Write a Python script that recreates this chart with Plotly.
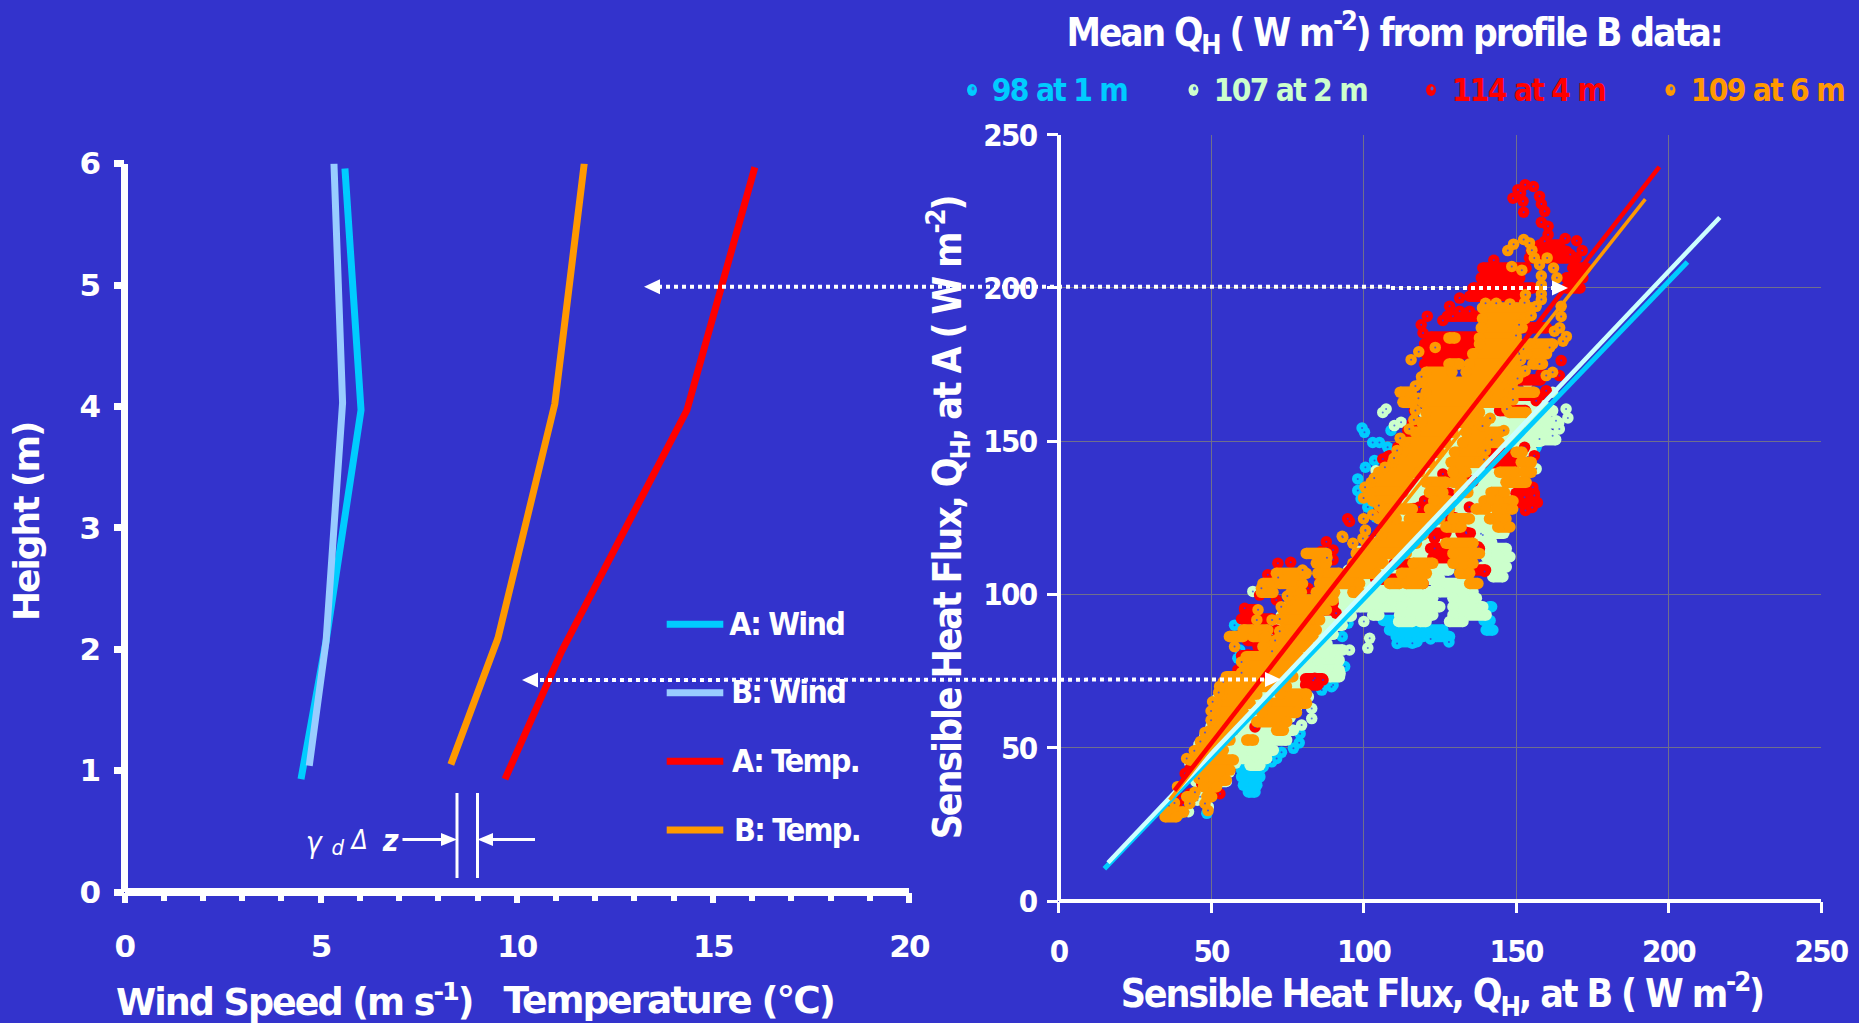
import plotly.graph_objects as go

W, H = 1859, 1023
BG = "#3333cc"
CYAN, MINT, RED, ORANGE, SKY, PALE = "#00ccff", "#ccffcc", "#ff0000", "#ff9900", "#99ccff", "#ccffff"
FONT = "DejaVu Sans Condensed, DejaVu Sans, sans-serif"
FONT_WIDE = "DejaVu Sans, sans-serif"

# ---------- left panel: profiles ----------
wind_a_speed = [4.5, 5.14, 6.03, 5.62]
wind_a_height = [0.93, 2.07, 3.97, 5.96]
wind_b_speed = [4.71, 5.14, 5.56, 5.34]
wind_b_height = [1.04, 2.07, 4.03, 6.0]
temp_a_value = [9.7, 11.14, 14.34, 16.07]
temp_a_height = [0.93, 1.98, 3.97, 5.97]
temp_b_value = [8.32, 9.52, 10.97, 11.72]
temp_b_height = [1.05, 2.09, 4.02, 6.0]

# ---------- right panel: fitted lines ----------
fit_1m_x, fit_1m_y = [15, 206.2], [10.5, 208.5]
fit_2m_x, fit_2m_y = [16.2, 216.8], [12.5, 223]
fit_4m_x, fit_4m_y = [38, 197], [36, 239.5]
fit_6m_x, fit_6m_y = [36.4, 192.4], [33, 229]

# ---------- right panel: point clouds ----------
# rows: (flux at A, [(flux at B from, flux at B to), ...]); spots: single points
cyan_rows = [
 (100.4, [(100.9, 105.3)]), (98.2, [(107.5, 110)]), (96, [(141.3, 142)]), (91.5, [(106.5, 110), (139.5, 141.5)]),
 (88.4, [(108.5, 126), (140.2, 142.4)]), (86.3, [(110.7, 119.5), (123.8, 128.2)]), (84.6, [(112, 117.5)]),
 (42.7, [(60, 66)]), (40.5, [(60, 66)]), (37.8, [(60.6, 65)]), (35.6, [(62.2, 64.4)]), (46, [(59.5, 62.5)]),
]
cyan_spots_x = [94.9, 93, 93.8, 90, 86.7, 84.5, 58.8, 57.7, 59.4, 70.8, 63.7, 99.5, 100.3, 103, 105.2, 107.9, 109, 103.6,
                100.6, 98.1, 98.1, 99.2, 101.4, 104.1, 104.1, 100.3, 101.9, 156.6, 67.1, 69.9, 71.5, 73.1, 77, 78.9, 79.2,
                48.6, 39.8, 86.3, 89.5, 65, 111, 116, 128, 122]
cyan_spots_y = [90.6, 86.3, 76.5, 70.5, 70, 75.4, 79.2, 90, 81.9, 86.3, 85.2, 154.3, 152.9, 149.6, 149.6, 148, 153.5, 143.7,
                141.5, 137.7, 133.9, 131.2, 128.5, 125.2, 137.2, 135, 130.6, 148, 43.8, 45.4, 46.5, 48.5, 49.8, 51.6, 54.6,
                28.6, 28.6, 68.8, 69.9, 53.6, 84, 84.1, 84.5, 85.5]

mint_rows = [
 (182, [(128, 137)]), (115, [(141.3, 146.8)]), (112.3, [(140.2, 148)]), (109, [(139.1, 146.8)]), (105.8, [(142.4, 145.7)]),
 (103.6, [(123.8, 132.6)]), (100.9, [(115.1, 122.7), (124.9, 135.9)]), (98.8, [(107.4, 122.7), (129.3, 137)]),
 (96, [(98.7, 110.7), (112.4, 125), (129.3, 139.1)]), (93.3, [(103, 105), (111.8, 122.7), (129.3, 140.2)]),
 (91.2, [(111.5, 116), (118.5, 120.5), (128.2, 132.6)]), (81.9, [(86.7, 93.2)]), (78.6, [(85.6, 92)]), (75.4, [(86.7, 92)]),
 (74.2, [(86.8, 92.3)]), (73.2, [(88.9, 92.1)]), (55.7, [(67.1, 77)]), (52.5, [(65, 74.8)]), (49.2, [(62.8, 70.4)]),
 (46.5, [(58.4, 68.2)]), (44.3, [(62.8, 66)]), (160, [(156.5, 162)]), (156, [(157.7, 164)]), (150.5, [(155.5, 163)]),
 # body of the cloud, mostly covered by the later series
 (165, [(125, 155)]), (162, [(122, 158)]), (159, [(120, 160)]), (156, [(120, 160)]), (153, [(118, 160)]), (150, [(115, 158)]),
 (147, [(114, 155)]), (144, [(112, 152)]), (141, [(108, 150)]), (138, [(106, 150)]), (135, [(105, 150)]), (132, [(105, 150)]),
 (129, [(106, 148)]), (126, [(106, 146)]), (123, [(108, 146)]), (120, [(106, 146)]), (117, [(102, 142)]), (114, [(98, 140)]),
 (111, [(98, 132)]), (108, [(95, 128)]), (105, [(95, 125)]), (102, [(92, 118)]), (99, [(90, 106)]), (96, [(75, 98)]),
 (93, [(73, 96)]), (90, [(72, 93)]), (87, [(72, 90)]), (84, [(70, 88)]), (81, [(70, 87)]), (78, [(62, 85)]), (75, [(60, 85)]),
 (72, [(58, 84)]), (69, [(55, 80)]), (66, [(52, 80)]), (63, [(52, 78)]), (60, [(52, 76)]), (57, [(50, 74)]), (54, [(48, 72)]),
 (51, [(46, 68)]), (48, [(45, 60)]), (45, [(43, 58)]), (42, [(45, 56)]), (39, [(45, 55)]),
]
mint_spots_x = [100.1, 102, 101.4, 139.1, 63.7, 60.5, 81.9, 83, 83, 79.7, 46.4, 49.1, 42.6, 45.5, 48.5, 107.4, 106.3, 112.3, 110.1,
                104.1, 166.4, 167, 163.1, 164.2, 162, 157.7, 156.6, 138.5, 153.8, 162, 159.9, 95.4]
mint_spots_y = [91.2, 85.7, 82.5, 119.4, 101, 91.7, 66.6, 62.8, 59.5, 57.4, 34, 30.7, 29.1, 32.9, 32.4, 160.5, 159.4, 156.2, 155.1,
                140.4, 160.5, 157.6, 156.7, 154, 151.8, 150.7, 141, 119.8, 169.2, 166, 161, 81.9]

red_rows = [
 (214, [(157.7, 164.3)]), (212, [(155, 166.5)]), (209.8, [(154.4, 169.7)]), (206.5, [(139.1, 153.3), (168.6, 173)]),
 (203.3, [(138.6, 151.2), (166.5, 171.9)]), (200, [(135.9, 155.5), (166.5, 171)]), (197.3, [(134.8, 144.6), (146.8, 151)]),
 (190.8, [(127.5, 137)]), (187, [(152, 160)]), (184, [(122, 137)]), (181.7, [(120, 135.8)]), (178.5, [(120.5, 135.8)]), (175.2, [(120, 128)]),
 (170, [(149, 158)]), (160, [(144.6, 153)]), (156, [(116, 125)]), (150, [(113, 120)]), (145, [(108, 112)]), (112, [(122.7, 130)]), (108, [(136, 140)]),
 (130, [(150, 157)]), (133, [(122, 128), (150, 156)]), (143, [(140, 150)]), (146, [(142, 150)]), (165, [(150, 158)]), (95, [(61, 65), (87, 90)]),
 (70.5, [(81, 85)]), (72.5, [(81, 86.5)]), (125, [(120, 130)]), (115, [(122, 128), (133, 138)]), (120, [(122, 127), (132, 135)]),
 (92, [(60, 70)]), (85, [(62, 72)]), (80, [(60, 66)]), (110, [(110, 116)]), (105, [(104, 112)]), (137, [(128, 136)]), (128, [(116, 122)]),
]
red_spots_x = [149, 150.6, 153, 155.7, 157.7, 158.3, 159.4, 152.3, 151.5, 152.5, 158.3, 160.5, 160.5, 166.1, 169.9, 171.7, 167.8, 142.7,
               159.4, 131.5, 128.2, 134.8, 131.5, 129.3, 120.9, 126, 118.9, 119.5, 116.7, 114.5, 111.2, 108.5, 106.3, 94.8,
               159.9, 156.6, 164.8, 164.2, 158.2, 156, 152.8, 155.5, 152.8, 156, 155.3, 153.1, 148.9, 126, 120, 118.3, 134.7, 123.2,
               133.6, 105, 68.6, 71.9, 76.1, 86.1, 90, 90, 87.8, 61, 71.4, 71.4, 65.9, 81.8, 79, 85.6, 87.8, 91, 90, 65.4, 62.1, 58.8,
               86.7, 84, 123.3, 123.3, 133.7, 137.5, 139.7, 119.5, 95.4, 83.5, 77.5, 64.4, 52.9, 46.9, 43.1, 39.8, 38.7, 41.5, 43.1, 48, 50.7, 40.9]
red_spots_y = [229.3, 232, 233.7, 233.1, 229.9, 227.4, 225, 228.3, 231, 224.7, 221.4, 220.1, 217.4, 216.1, 215.4, 212.2, 210.9, 209,
               215.2, 196.7, 194, 192.4, 192.4, 190.8, 190.8, 189.4, 188, 185.3, 160, 153.5, 148, 145.3, 144.2, 124.7,
               166.5, 163.2, 176.3, 171.4, 171.9, 145.3, 148, 135, 131.7, 132.3, 128.4, 127.4, 145.3, 139.3, 130.6, 128.5, 128.5, 118.7,
               120.3, 126.3, 106.4, 110.2, 110.5, 114, 114.5, 111.3, 117.2, 95.5, 98.2, 88.4, 99.8, 102, 101, 105.8, 95.5, 93.9, 97.1, 83, 80.3, 75.4,
               72.1, 72.7, 118.3, 115, 120, 115.6, 107.5, 103.6, 123.8, 72, 62.8, 56.8, 35, 38.3, 35, 33.5, 32.4, 41.6, 43.2, 52, 59, 31.3]

orange_rows = [
 (193.5, [(139, 155)]), (190, [(139, 153)]), (187, [(138.6, 152)]), (183.7, [(128, 130), (138, 150)]),
 (181.7, [(138, 151), (154.4, 162)]), (178.5, [(135.8, 149), (153.5, 160)]), (175.2, [(128, 131.5), (134.7, 150), (155.5, 158.7)]),
 (172.5, [(120.5, 129), (133.6, 152)]), (169.2, [(119, 149)]), (166, [(112, 115.6), (120.5, 147.8), (150.6, 156)]),
 (162.7, [(112.9, 116.1), (119.4, 146.7)]), (159.4, [(120.5, 138), (147.8, 153.3)]), (156.2, [(119, 132.5), (134.7, 140)]),
 (152.9, [(117, 129.3), (133.6, 144.6)]), (149.6, [(113.4, 127), (132.5, 141), (141.5, 144.5)]),
 (146.4, [(112.9, 124.9), (129.8, 139), (150, 152)]), (143.1, [(109.6, 121.6), (128.7, 138), (151.7, 155)]),
 (139.9, [(105, 118.3), (129.3, 133.6), (144.6, 150), (152.7, 155)]), (136.6, [(102.5, 115), (120.5, 127), (129.3, 132.5), (146.7, 153.3)]),
 (133.3, [(101.9, 112.9), (121.6, 126), (131.4, 134.2), (141.8, 146.2)]), (130.5, [(103, 110.7), (123, 128), (139.5, 142), (144, 149)]),
 (127.9, [(106.3, 111.8), (112.9, 116), (121.6, 128.2), (136.9, 140.2), (143.5, 148.9)]),
 (124.7, [(105, 110.7), (115, 125), (129.3, 134.7), (141.3, 146.7)]),
 (122, [(107.4, 120.6), (127, 132), (144, 148)]), (119.5, [(106, 119.5)]), (116.7, [(100.9, 117.3), (127, 135.9)]),
 (113.4, [(81.2, 87.8), (97.6, 114), (129.3, 138)]), (110.2, [(84.5, 87.8), (96.5, 106.4), (116.2, 122.7), (129.3, 135.9)]),
 (106.9, [(71.4, 81.2), (85, 92), (94.3, 104.2), (112.4, 120.6), (131.5, 134.8)]),
 (103.6, [(67, 70), (72.5, 80), (85.6, 98.7), (108.5, 111.8), (114, 119.5), (134.8, 137.5)]),
 (100.7, [(66.5, 70.3), (76.3, 79.6), (84.5, 90.5), (96.5, 98.7)]), (98.2, [(75.8, 90)]), (95, [(73.6, 87.8)]),
 (91.7, [(73.6, 85.6)]), (88.4, [(60.5, 63.7), (64.8, 68.6), (73.6, 84.5)]), (86.3, [(56, 60.5), (63.7, 68), (72.5, 83.4)]),
 (83, [(67, 70.3), (71.4, 82.3)]), (79.7, [(61.5, 79)]), (76.5, [(61, 76.8)]), (73.2, [(55, 58), (59.4, 76.8)]),
 (70, [(52.8, 74.7)]), (67.5, [(53.5, 65), (72.6, 81.3)]), (64.5, [(51.8, 62.8), (68.2, 81.3)]),
 (61.5, [(51.3, 60.6), (66.6, 78)]), (58.5, [(51.3, 59.5), (65, 74.8)]), (55.7, [(49.7, 57.3), (71.5, 73.7)]),
 (52.5, [(47.5, 56.2), (61.7, 63.9)]), (49.2, [(45.3, 54)]), (46, [(43, 57.3)]), (42.7, [(47.5, 56.2)]), (39.4, [(47.5, 55)]),
 (37.3, [(47.5, 51.8)]), (34, [(42, 44.2), (48.6, 50.2)]), (29, [(35.4, 41)]), (27.5, [(34.9, 38.7)]),
]
orange_spots_x = [152.5, 154.4, 149.2, 147.3, 155.2, 156, 160.2, 157.7, 162.3, 148.6, 151.9, 163.4, 158.3, 158.3, 158.3, 153.1, 158.3,
                  164.8, 164.8, 164.3, 162.6, 166.5, 165.4, 118.1, 115.6, 123.5, 161, 157.7, 159.9, 162, 93, 96.5, 100.6, 99.8, 93.2,
                  100, 100.6, 65.4, 57.7, 65, 70, 39, 44.7, 38, 43, 48, 49,
                  119, 117, 118, 117, 116.5, 115, 112, 111, 110, 107, 103.5, 100.5, 100, 105, 103,
                  140, 143.5, 148, 152.8, 156.6, 155, 151, 150, 152.5, 151.5, 153, 150.5, 149, 149, 147, 141.5, 139, 146, 142, 140, 139.5,
                  88, 80, 72, 66.5, 75, 73, 72.5, 72.5, 71, 70, 60, 60, 54, 52.5, 50.5, 50, 50, 48, 46.5, 44.5, 42, 46, 46]
orange_spots_y = [215.8, 214.7, 214.3, 212.2, 212.3, 209.8, 209.8, 207.6, 206.5, 207, 205.8, 203.3, 204, 201, 198, 197.8, 196.2,
                  194, 190.7, 187, 185.9, 184.2, 182.6, 179.2, 176.6, 180.6, 180.6, 175.2, 171.4, 172.5, 119, 116.7, 121, 118.3, 118.7,
                  124.7, 120.8, 95, 83, 91.7, 91.7, 37.3, 35.5, 32, 31.8, 31.8, 29.5,
                  171, 168, 164, 160, 157, 154, 151, 147, 144.5, 141.5, 138, 135, 131.5, 129, 126,
                  195, 195, 194.8, 195.2, 194, 191, 188, 184.5, 180, 176.5, 173, 170.5, 167, 163.5, 160.5, 157.5, 155, 153.5, 150.5, 147, 144,
                  112, 108, 105.5, 102, 99.5, 96, 92, 88, 85, 81.5, 78, 74.5, 71.5, 68, 65, 62, 59, 55, 52, 49, 46.5, 43, 40]

# ---------- tick labels ----------
left_x_ticks = [0, 5, 10, 15, 20]
left_y_ticks = [0, 1, 2, 3, 4, 5, 6]
flux_ticks = [0, 50, 100, 150, 200, 250]

def px(x):
    return x / W

def py(y):
    return 1 - y / H

def build(rows, spots_x, spots_y):
    xs, ys = [], []
    for level, spans in rows:
        for a, b in spans:
            xs += [a, b, None]
            ys += [level, level, None]
    for a, b in zip(spots_x, spots_y):
        xs += [a, None]
        ys += [b, None]
    return xs, ys

fig = go.Figure()

# profiles
for xv, yv, col, name in [(wind_a_speed, wind_a_height, CYAN, "A: Wind"), (wind_b_speed, wind_b_height, SKY, "B: Wind"),
                          (temp_a_value, temp_a_height, RED, "A: Temp."), (temp_b_value, temp_b_height, ORANGE, "B: Temp.")]:
    fig.add_trace(go.Scatter(x=xv, y=yv, mode="lines", name=name, line=dict(color=col, width=7), xaxis="x", yaxis="y", showlegend=False))

# clouds
for rows, sx, sy, col, pit, name in [(cyan_rows, cyan_spots_x, cyan_spots_y, CYAN, "#2b55dd", "1 m"),
                                     (mint_rows, mint_spots_x, mint_spots_y, MINT, "#5a7ae0", "2 m"),
                                     (red_rows, red_spots_x, red_spots_y, RED, "#5522cc", "4 m"),
                                     (orange_rows, orange_spots_x, orange_spots_y, ORANGE, "#5a55c8", "6 m")]:
    xs, ys = build(rows, sx, sy)
    fig.add_trace(go.Scatter(x=xs, y=ys, mode="lines+markers", name=name, connectgaps=False,
                             line=dict(color=col, width=11.5), marker=dict(color=col, size=11.5),
                             xaxis="x2", yaxis="y2", showlegend=False))
    fig.add_trace(go.Scatter(x=sx, y=sy, mode="markers",
                             marker=dict(color=pit, size=2), xaxis="x2", yaxis="y2", showlegend=False, hoverinfo="skip"))

# fits
for xv, yv, col, w in [(fit_1m_x, fit_1m_y, CYAN, 5), (fit_2m_x, fit_2m_y, PALE, 4.5), (fit_6m_x, fit_6m_y, ORANGE, 3.5), (fit_4m_x, fit_4m_y, RED, 4.5)]:
    fig.add_trace(go.Scatter(x=xv, y=yv, mode="lines", line=dict(color=col, width=w), xaxis="x2", yaxis="y2", showlegend=False))

shapes = []

def seg(x0, y0, x1, y1, col="white", w=3, dash=None):
    shapes.append(dict(type="line", xref="paper", yref="paper", x0=px(x0), y0=py(y0), x1=px(x1), y1=py(y1),
                       line=dict(color=col, width=w, dash=dash or "solid")))

def tri(tip_x, tip_y, base_x, half):
    shapes.append(dict(type="path", xref="paper", yref="paper", fillcolor="white", line=dict(width=0),
                       path=f"M {px(tip_x)} {py(tip_y)} L {px(base_x)} {py(tip_y - half)} L {px(base_x)} {py(tip_y + half)} Z"))

DOT = "4px,4px"
seg(650, 286.7, 1391, 286.7, w=4, dash=DOT)
seg(1391, 288, 1555, 288, w=4, dash=DOT)
tri(644, 286.7, 660, 7.5)
tri(1568, 288, 1552, 7.5)
seg(540, 680, 1268, 679.5, w=4, dash=DOT)
tri(522, 680, 538, 7.5)
tri(1281, 679.5, 1265, 7.5)

# gamma marker
seg(457, 793, 457, 878)
seg(477.5, 793, 477.5, 878)
seg(402.5, 839.5, 450, 839.5)
seg(535, 839.5, 485, 839.5)
tri(457, 839.5, 441, 6.5)
tri(477.5, 839.5, 493, 6.5)

# left legend lines
for yy, col in [(624.3, CYAN), (692.7, SKY), (761.3, RED), (830, ORANGE)]:
    seg(666.7, yy, 723.3, yy, col=col, w=7)

# key dots for the flux means
for cx, col in [(972, CYAN), (1193.5, MINT), (1431, RED), (1670.5, ORANGE)]:
    shapes.append(dict(type="circle", xref="paper", yref="paper", fillcolor=col, line=dict(width=0),
                       x0=px(cx - 5), x1=px(cx + 5), y0=py(90 - 6), y1=py(90 + 6)))
    shapes.append(dict(type="circle", xref="paper", yref="paper", fillcolor="#4466dd", line=dict(width=0),
                       x0=px(cx - 0.5), x1=px(cx + 2.5), y0=py(88.5 - 2), y1=py(88.5 + 2)))

ann = []

def txt(x, y, s, size=32, col="white", angle=0, bold=True, italic=False, family=FONT):
    f = dict(family=family, size=size, color=col, weight="bold" if bold else "normal")
    if italic:
        f["style"] = "italic"
    ann.append(dict(x=px(x), y=py(y), xref="paper", yref="paper", text=s, showarrow=False, xanchor="center", yanchor="middle",
                    textangle=angle, font=f))

txt(1394, 33, "Mean Q<sub>H</sub> ( W m<sup>-2</sup>) from profile B data:", size=38.5)
txt(1059, 90, "98 at 1 m", size=31.5, col=CYAN)
txt(1290.5, 90, "107 at 2 m", size=31.5, col=MINT)
txt(1528, 90, "114 at 4 m", size=31.5, col=RED)
txt(1767, 90, "109 at 6 m", size=31.5, col=ORANGE)
txt(786.6, 624, "A: Wind", size=32)
txt(788.4, 692, "B: Wind", size=32)
txt(795.5, 761, "A: Temp.", size=32)
txt(797.3, 830, "B: Temp.", size=32)
txt(26, 522, "Height (m)", size=36, angle=-90, family=FONT_WIDE)
txt(948, 518, "Sensible Heat Flux, Q<sub>H</sub>, at A ( W m<sup>-2</sup>)", size=39, angle=-90)
txt(1442, 994, "Sensible Heat Flux, Q<sub>H</sub>, at B ( W m<sup>-2</sup>)", size=39)
txt(294.6, 1000, "Wind Speed (m s<sup>-1</sup>)", size=36.5, family=FONT_WIDE)
txt(668, 1000, "Temperature (°C)", size=37.5, family=FONT_WIDE)
txt(314, 842, "γ", size=30, bold=False, italic=True)
txt(337, 847, "d", size=22, bold=False, italic=True)
txt(358, 840, "Δ", size=26, bold=False, italic=True)
txt(389, 840, "z", size=30, italic=True)

tick_left = dict(family=FONT_WIDE, size=31, color="white", weight="bold")
tick_right = dict(family=FONT, size=31, color="white", weight="bold")
GRID = "#6f6f8c"

fig.update_layout(
    template="none",
    width=W, height=H, autosize=False, margin=dict(l=0, r=0, t=0, b=0, pad=0),
    paper_bgcolor=BG, plot_bgcolor=BG, showlegend=False, shapes=shapes, annotations=ann,
    font=dict(family=FONT, color="white"),
    xaxis=dict(domain=[px(124.5), px(909)], range=[0, 20], tickvals=left_x_ticks, showgrid=False, automargin=False,
               zeroline=True, zerolinecolor="white", zerolinewidth=7, anchor="y", showline=False,
               ticks="outside", ticklen=10, tickwidth=6, tickcolor="white", tickfont=tick_left, ticklabelstandoff=17,
               minor=dict(dtick=1, ticks="outside", ticklen=8, tickwidth=6, tickcolor="white", showgrid=False)),
    yaxis=dict(domain=[py(892), py(163.6)], range=[0, 6], tickvals=left_y_ticks, showgrid=False, automargin=False,
               zeroline=True, zerolinecolor="white", zerolinewidth=8, anchor="x", showline=False,
               ticks="outside", ticklen=10, tickwidth=7, tickcolor="white", tickfont=tick_left, ticklabelstandoff=8),
    xaxis2=dict(domain=[px(1058.6), px(1821)], range=[0, 250], tickvals=flux_ticks, showgrid=True, gridcolor=GRID, gridwidth=1,
                automargin=False, zeroline=True, zerolinecolor="white", zerolinewidth=4, anchor="y2", showline=False,
                ticks="outside", ticklen=11, tickwidth=3, tickcolor="white", tickfont=tick_right, ticklabelstandoff=12),
    yaxis2=dict(domain=[py(901), py(134.7)], range=[0, 250], tickvals=flux_ticks, showgrid=True, gridcolor=GRID, gridwidth=1,
                automargin=False, zeroline=True, zerolinecolor="white", zerolinewidth=4, anchor="x2", showline=False,
                ticks="outside", ticklen=11, tickwidth=3, tickcolor="white", tickfont=tick_right, ticklabelstandoff=4),
)

POST = """
document.body.style.margin='0';document.body.style.background='#3333cc';document.documentElement.style.overflow='hidden';
var s=document.createElement('style');
s.textContent='svg text{letter-spacing:-0.055em;}';
document.head.appendChild(s);
"""

fig.write_html("out.html", post_script=POST, config=dict(displayModeBar=False))
